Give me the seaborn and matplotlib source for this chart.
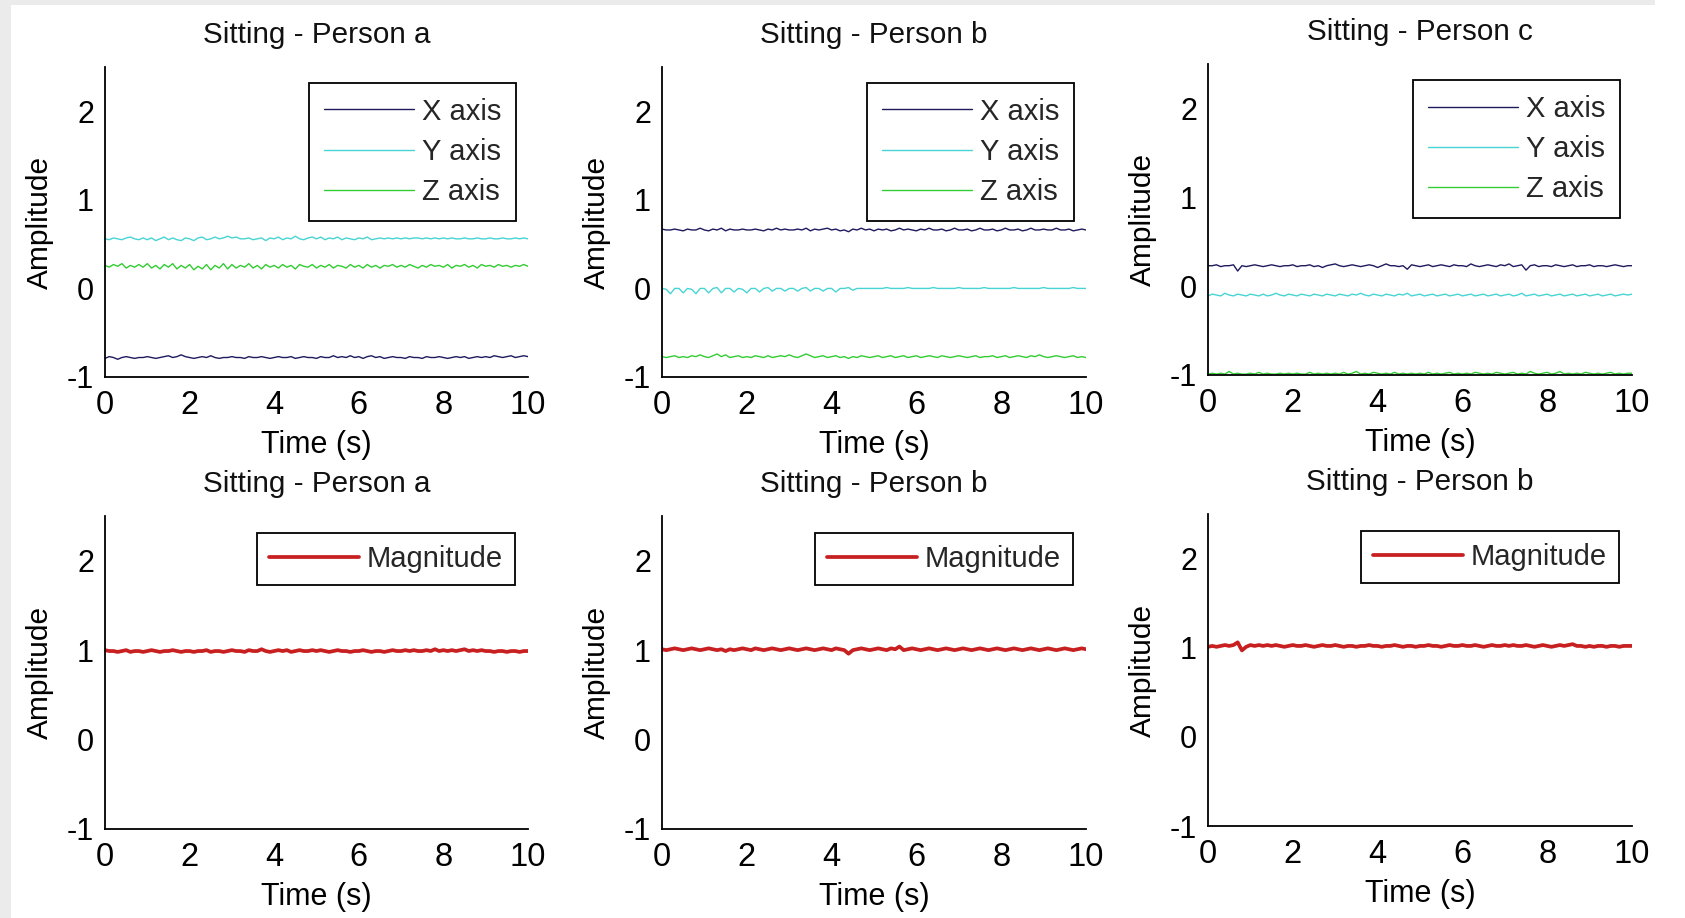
import numpy as np
import pandas as pd
import matplotlib
matplotlib.use("Agg")
import matplotlib.pyplot as plt
import seaborn as sns
from matplotlib.patches import Rectangle

# ---------------------------------------------------------------- data
# accelerometer readings (g), sampled every 0.1 s over 10 s
time_s = np.round(np.arange(0, 101) * 0.1, 1)

a_x = [-0.79,-0.77,-0.78,-0.80,-0.78,-0.77,-0.78,-0.79,-0.78,-0.78,
       -0.77,-0.78,-0.79,-0.78,-0.77,-0.76,-0.78,-0.77,-0.75,-0.77,
       -0.78,-0.79,-0.78,-0.77,-0.78,-0.76,-0.78,-0.79,-0.78,-0.78,
       -0.77,-0.78,-0.78,-0.79,-0.77,-0.78,-0.78,-0.77,-0.78,-0.79,
       -0.78,-0.77,-0.78,-0.78,-0.77,-0.79,-0.78,-0.77,-0.78,-0.78,
       -0.79,-0.77,-0.78,-0.78,-0.76,-0.78,-0.77,-0.78,-0.76,-0.78,
       -0.77,-0.79,-0.77,-0.76,-0.78,-0.77,-0.79,-0.78,-0.77,-0.78,
       -0.78,-0.79,-0.77,-0.78,-0.78,-0.79,-0.77,-0.78,-0.78,-0.77,
       -0.78,-0.79,-0.78,-0.77,-0.78,-0.77,-0.79,-0.78,-0.77,-0.78,
       -0.77,-0.78,-0.76,-0.77,-0.78,-0.77,-0.76,-0.78,-0.77,-0.76,-0.77]
a_y = [0.56,0.55,0.57,0.56,0.55,0.57,0.58,0.56,0.55,0.57,
       0.55,0.57,0.54,0.56,0.58,0.55,0.57,0.55,0.54,0.57,
       0.56,0.54,0.57,0.58,0.55,0.56,0.58,0.56,0.57,0.59,
       0.57,0.58,0.56,0.56,0.57,0.55,0.56,0.57,0.54,0.57,
       0.56,0.58,0.55,0.57,0.56,0.59,0.56,0.55,0.57,0.58,
       0.56,0.58,0.55,0.57,0.56,0.58,0.55,0.57,0.56,0.55,
       0.57,0.56,0.58,0.55,0.56,0.57,0.56,0.57,0.56,0.57,
       0.56,0.57,0.56,0.57,0.57,0.56,0.57,0.56,0.57,0.56,
       0.57,0.56,0.57,0.56,0.56,0.57,0.56,0.56,0.57,0.56,
       0.56,0.57,0.56,0.56,0.57,0.56,0.56,0.57,0.56,0.57,0.56]
a_z = [0.26,0.24,0.27,0.25,0.28,0.23,0.26,0.24,0.27,0.24,
       0.28,0.23,0.26,0.22,0.27,0.24,0.28,0.22,0.26,0.23,
       0.27,0.21,0.25,0.22,0.27,0.21,0.26,0.23,0.28,0.22,
       0.27,0.23,0.26,0.24,0.28,0.23,0.26,0.22,0.27,0.24,
       0.26,0.23,0.27,0.24,0.26,0.22,0.27,0.25,0.24,0.27,
       0.23,0.26,0.24,0.27,0.23,0.26,0.25,0.23,0.27,0.24,
       0.26,0.23,0.27,0.24,0.26,0.23,0.26,0.25,0.27,0.24,
       0.26,0.24,0.27,0.25,0.23,0.26,0.24,0.27,0.25,0.26,
       0.24,0.27,0.23,0.26,0.25,0.27,0.24,0.26,0.23,0.27,
       0.25,0.26,0.24,0.27,0.25,0.26,0.24,0.26,0.25,0.27,0.25]

b_x = [0.67,0.66,0.66,0.67,0.66,0.65,0.67,0.66,0.66,0.68,
       0.66,0.65,0.67,0.66,0.68,0.65,0.67,0.66,0.66,0.67,
       0.66,0.66,0.67,0.66,0.65,0.67,0.66,0.68,0.66,0.67,
       0.66,0.66,0.67,0.66,0.68,0.65,0.67,0.66,0.67,0.68,
       0.66,0.67,0.65,0.66,0.64,0.67,0.66,0.68,0.66,0.67,
       0.65,0.67,0.66,0.67,0.65,0.66,0.68,0.66,0.67,0.66,
       0.65,0.67,0.66,0.68,0.66,0.66,0.67,0.65,0.66,0.68,
       0.66,0.66,0.67,0.65,0.66,0.68,0.66,0.66,0.67,0.65,
       0.66,0.68,0.66,0.66,0.67,0.65,0.66,0.68,0.66,0.66,
       0.67,0.66,0.66,0.68,0.66,0.66,0.67,0.65,0.66,0.67,0.66]
b_y = [0.00,-0.01,-0.06,0.00,0.00,-0.05,0.00,-0.01,-0.06,0.00,
       0.00,-0.05,0.00,0.01,-0.05,0.00,0.00,-0.04,0.00,-0.01,
       -0.05,0.00,0.00,-0.04,0.00,0.01,-0.03,0.00,0.00,-0.03,
       0.00,0.00,-0.03,0.00,0.01,-0.03,0.00,0.00,-0.03,0.00,
       0.00,-0.04,0.00,0.00,0.01,-0.02,0.00,0.00,0.00,0.00,
       0.00,0.00,0.00,0.01,0.00,0.00,0.00,0.00,0.01,0.00,
       0.00,0.00,0.00,0.00,0.01,0.00,0.00,0.00,0.00,0.00,
       0.01,0.00,0.00,0.00,0.00,0.00,0.01,0.00,0.00,0.00,
       0.00,0.00,0.00,0.01,0.00,0.00,0.00,0.00,0.00,0.00,
       0.01,0.00,0.00,0.00,0.00,0.00,0.00,0.01,0.00,0.00,0.00]
b_z = [-0.77,-0.78,-0.77,-0.76,-0.78,-0.77,-0.78,-0.76,-0.77,-0.75,
       -0.77,-0.78,-0.76,-0.74,-0.77,-0.75,-0.78,-0.77,-0.76,-0.78,
       -0.77,-0.78,-0.76,-0.77,-0.78,-0.76,-0.78,-0.77,-0.76,-0.77,
       -0.75,-0.77,-0.78,-0.76,-0.74,-0.76,-0.78,-0.77,-0.76,-0.78,
       -0.77,-0.76,-0.78,-0.77,-0.79,-0.77,-0.78,-0.76,-0.77,-0.78,
       -0.77,-0.76,-0.78,-0.77,-0.76,-0.78,-0.77,-0.76,-0.78,-0.77,
       -0.76,-0.78,-0.77,-0.76,-0.77,-0.78,-0.76,-0.77,-0.78,-0.77,
       -0.76,-0.77,-0.78,-0.77,-0.76,-0.78,-0.77,-0.77,-0.76,-0.78,
       -0.77,-0.76,-0.78,-0.77,-0.76,-0.77,-0.78,-0.76,-0.77,-0.75,
       -0.77,-0.78,-0.77,-0.76,-0.77,-0.78,-0.77,-0.76,-0.78,-0.77,-0.78]

c_x = [0.23,0.23,0.24,0.22,0.23,0.23,0.24,0.17,0.23,0.22,
       0.23,0.24,0.23,0.22,0.23,0.24,0.23,0.22,0.23,0.23,
       0.24,0.22,0.23,0.23,0.24,0.22,0.23,0.21,0.23,0.24,
       0.25,0.23,0.22,0.23,0.24,0.23,0.22,0.23,0.24,0.23,
       0.21,0.23,0.25,0.23,0.23,0.22,0.23,0.19,0.24,0.23,
       0.22,0.23,0.24,0.22,0.23,0.24,0.23,0.22,0.24,0.23,
       0.23,0.22,0.25,0.23,0.22,0.23,0.24,0.23,0.22,0.24,
       0.23,0.25,0.22,0.23,0.24,0.18,0.23,0.24,0.22,0.23,
       0.23,0.22,0.24,0.23,0.22,0.23,0.24,0.22,0.23,0.23,
       0.24,0.22,0.23,0.23,0.22,0.23,0.24,0.23,0.22,0.23,0.23]
c_y = [-0.11,-0.09,-0.10,-0.11,-0.08,-0.10,-0.11,-0.09,-0.10,-0.11,
       -0.09,-0.10,-0.11,-0.09,-0.11,-0.10,-0.08,-0.10,-0.11,-0.09,
       -0.10,-0.11,-0.09,-0.10,-0.11,-0.09,-0.10,-0.11,-0.09,-0.10,
       -0.11,-0.09,-0.10,-0.11,-0.09,-0.10,-0.08,-0.10,-0.11,-0.09,
       -0.10,-0.11,-0.09,-0.10,-0.11,-0.09,-0.10,-0.08,-0.11,-0.10,
       -0.09,-0.11,-0.10,-0.09,-0.11,-0.10,-0.09,-0.11,-0.10,-0.09,
       -0.11,-0.10,-0.09,-0.11,-0.10,-0.09,-0.11,-0.10,-0.09,-0.11,
       -0.10,-0.09,-0.11,-0.10,-0.08,-0.11,-0.10,-0.09,-0.11,-0.10,
       -0.09,-0.11,-0.10,-0.09,-0.11,-0.10,-0.09,-0.11,-0.10,-0.09,
       -0.11,-0.10,-0.09,-0.11,-0.10,-0.09,-0.11,-0.10,-0.09,-0.10,-0.09]
c_z = [-0.99,-0.98,-0.99,-0.98,-0.99,-0.96,-0.99,-0.98,-0.99,-0.99,
       -0.98,-0.99,-0.97,-0.99,-0.98,-0.99,-0.99,-0.98,-0.99,-0.98,
       -0.99,-0.98,-0.99,-0.99,-0.97,-0.99,-0.98,-0.99,-0.98,-0.99,
       -0.98,-0.99,-0.97,-0.99,-0.98,-0.96,-0.99,-0.98,-0.99,-0.97,
       -0.98,-0.99,-0.98,-0.99,-0.97,-0.99,-0.98,-0.99,-0.98,-0.99,
       -0.98,-0.99,-0.97,-0.99,-0.98,-0.99,-0.98,-0.97,-0.99,-0.98,
       -0.99,-0.98,-0.99,-0.97,-0.98,-0.99,-0.98,-0.99,-0.97,-0.98,
       -0.99,-0.98,-0.97,-0.99,-0.98,-0.99,-0.96,-0.98,-0.99,-0.98,
       -0.97,-0.99,-0.98,-0.96,-0.99,-0.98,-0.99,-0.98,-0.99,-0.97,
       -0.98,-0.99,-0.98,-0.99,-0.98,-0.97,-0.99,-0.98,-0.99,-0.98,-0.98]

mag_a = [1.00,0.99,0.99,0.98,0.99,1.00,0.98,0.99,0.99,0.98,
         0.99,1.00,0.99,0.98,0.99,0.99,1.00,0.99,0.98,0.99,
         0.99,0.98,0.99,0.99,1.00,0.98,0.99,0.99,0.98,0.99,
         1.00,0.99,0.99,0.98,1.00,0.99,0.99,1.01,0.99,0.98,
         0.99,1.00,0.99,1.00,0.98,0.99,1.00,0.99,0.99,1.00,
         0.99,1.00,0.99,0.98,0.99,1.00,0.99,0.99,0.98,0.99,
         0.99,1.00,0.99,0.98,0.99,0.99,0.98,0.99,1.00,0.99,
         0.99,1.00,0.99,1.00,0.99,0.99,1.00,0.99,1.01,0.99,
         1.00,0.99,1.00,0.99,1.00,1.01,0.99,1.00,0.99,1.00,
         0.99,0.99,0.98,0.99,0.99,0.98,0.99,0.99,0.98,0.99,0.99]
mag_b = [1.01,1.00,1.01,1.02,1.01,1.00,1.01,1.02,1.01,1.00,
         1.01,1.02,1.01,1.00,1.01,0.99,1.01,1.00,1.01,1.02,
         1.01,1.00,1.02,1.01,1.00,1.01,1.02,1.01,1.00,1.01,
         1.02,1.01,1.00,1.01,1.02,1.01,1.00,1.01,1.02,1.01,
         1.00,1.02,1.01,1.00,0.96,1.00,1.01,1.02,1.01,1.00,
         1.01,1.02,1.01,1.00,1.02,1.01,1.04,1.00,1.01,1.02,
         1.01,1.00,1.01,1.02,1.01,1.00,1.01,1.02,1.01,1.00,
         1.01,1.02,1.01,1.00,1.01,1.02,1.01,1.00,1.01,1.02,
         1.01,1.00,1.01,1.02,1.01,1.00,1.01,1.02,1.01,1.00,
         1.01,1.02,1.01,1.00,1.01,1.02,1.01,1.00,1.01,1.02,1.01]
mag_c = [1.01,1.02,1.01,1.02,1.03,1.02,1.03,1.06,0.97,1.01,
         1.03,1.02,1.03,1.02,1.03,1.02,1.03,1.02,1.01,1.02,
         1.03,1.02,1.02,1.03,1.02,1.01,1.02,1.03,1.02,1.02,
         1.03,1.02,1.01,1.02,1.02,1.01,1.02,1.02,1.03,1.02,
         1.02,1.01,1.02,1.02,1.03,1.02,1.01,1.02,1.02,1.01,
         1.02,1.02,1.03,1.02,1.02,1.01,1.02,1.03,1.02,1.02,
         1.03,1.02,1.02,1.03,1.02,1.01,1.02,1.03,1.02,1.02,
         1.03,1.02,1.03,1.02,1.02,1.03,1.02,1.01,1.02,1.03,
         1.02,1.01,1.02,1.03,1.02,1.03,1.04,1.02,1.02,1.01,
         1.02,1.01,1.02,1.02,1.01,1.02,1.02,1.01,1.02,1.02,1.02]

axis_labels = ["X axis", "Y axis", "Z axis"]
mag_label = "Magnitude"
top_titles = ["Sitting - Person a", "Sitting - Person b", "Sitting - Person c"]
bottom_titles = ["Sitting - Person a", "Sitting - Person b", "Sitting - Person b"]
x_ticks = [0, 2, 4, 6, 8, 10]
y_ticks = [-1, 0, 1, 2]

# ---------------------------------------------------------------- style
sns.set_style("white")
plt.rcParams["font.family"] = ["Liberation Sans", "DejaVu Sans"]
plt.rcParams["axes.unicode_minus"] = False

axis_palette = {"X axis": "#1d1b5e", "Y axis": "#48d4d4", "Z axis": "#33cc33"}
mag_color = "#c82020"

W, H = 1685, 918
fig = plt.figure(figsize=(W / 100, H / 100), dpi=100)
fig.patch.set_facecolor("white")
fig.patches.append(Rectangle((0, 0), 11 / W, 1, transform=fig.transFigure,
                             facecolor="#ebebeb", edgecolor="none", zorder=0))
fig.patches.append(Rectangle((0, 1 - 5 / H), 1655 / W, 5 / H, transform=fig.transFigure,
                             facecolor="#ebebeb", edgecolor="none", zorder=0))


def make_axes(left, right, bottom, top):
    return fig.add_axes([left / W, 1 - bottom / H, (right - left) / W, (bottom - top) / H])


def style_axes(ax, title, pad):
    ax.set_xlim(0, 10)
    ax.set_ylim(-1, 2.5)
    ax.set_xticks(x_ticks)
    ax.set_yticks(y_ticks)
    ax.set_facecolor("white")
    for side in ("top", "right"):
        ax.spines[side].set_visible(False)
    for side in ("left", "bottom"):
        ax.spines[side].set_color("black")
        ax.spines[side].set_linewidth(1.3)
    ax.tick_params(axis="x", direction="in", length=5, width=1.1, colors="black",
                   labelsize=23.5, pad=9.5)
    ax.tick_params(axis="y", direction="in", length=3, width=1.1, colors="black",
                   labelsize=22, pad=8)
    ax.set_xlabel("Time (s)", fontsize=22, labelpad=6, color="black")
    ax.set_ylabel("Amplitude", fontsize=21.5, labelpad=9, color="black")
    ax.set_title(title, fontsize=21.3, pad=pad, color="#111111")


def legend_box(ax, x_anchor, y_anchor, spacing, bpad):
    leg = ax.legend(loc="upper right", bbox_to_anchor=(x_anchor, y_anchor),
                    borderaxespad=0, frameon=True, fancybox=False, framealpha=1,
                    edgecolor="black", fontsize=21, handlelength=3.1,
                    handletextpad=0.25, labelspacing=spacing, borderpad=bpad)
    leg.get_frame().set_linewidth(1.3)
    return leg


top_boxes = [(105, 528, 377, 67), (662, 1086, 377, 67), (1208, 1632, 375, 64)]
bottom_boxes = [(105, 528, 829, 516), (662, 1086, 829, 516), (1208, 1632, 826, 514)]
xyz_sets = [(a_x, a_y, a_z), (b_x, b_y, b_z), (c_x, c_y, c_z)]
mag_sets = [mag_a, mag_b, mag_c]

# top row: per-axis components
for box, title, (xs, ys, zs) in zip(top_boxes, top_titles, xyz_sets):
    ax = make_axes(*box)
    frame = pd.DataFrame({
        "Time": np.concatenate([time_s] * 3),
        "Amplitude": np.concatenate([xs, ys, zs]),
        "Signal": np.repeat(axis_labels, len(time_s)),
    })
    sns.lineplot(data=frame, x="Time", y="Amplitude", hue="Signal",
                 hue_order=axis_labels, palette=axis_palette, estimator=None,
                 linewidth=1.0, ax=ax)
    style_axes(ax, title, pad=17)
    legend_box(ax, 0.971, 0.948, 0.42, 0.5)

# bottom row: acceleration magnitude
for box, title, mag in zip(bottom_boxes, bottom_titles, mag_sets):
    ax = make_axes(*box)
    frame = pd.DataFrame({"Time": time_s, "Amplitude": mag, "Signal": mag_label})
    sns.lineplot(data=frame, x="Time", y="Amplitude", hue="Signal",
                 palette={mag_label: mag_color}, estimator=None,
                 linewidth=2.7, ax=ax)
    style_axes(ax, title, pad=17)
    legend_box(ax, 0.969, 0.946, 0.2, 0.42)

fig.savefig("out.png", dpi=100, facecolor=fig.get_facecolor())
